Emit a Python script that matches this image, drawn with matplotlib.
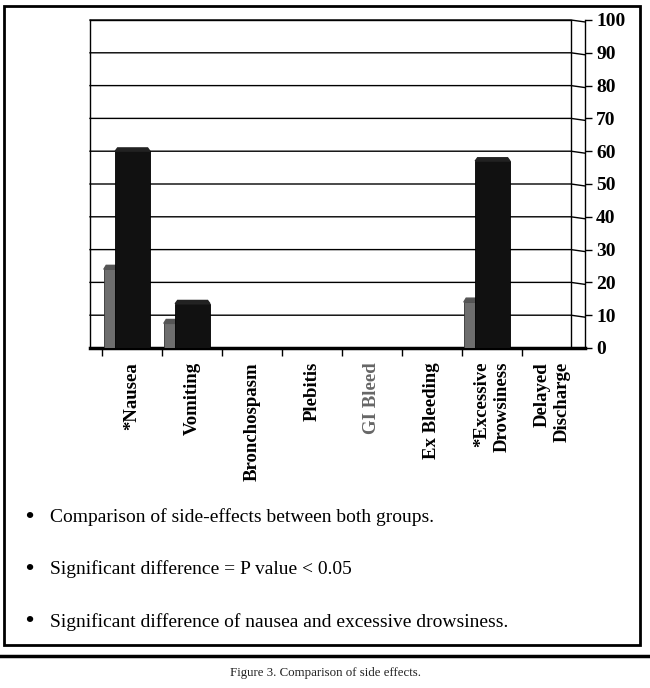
import matplotlib
matplotlib.use("Agg")
import matplotlib.pyplot as plt
from matplotlib.patches import Rectangle
from matplotlib.lines import Line2D
import numpy as np

# side effects (% of patients) for the two groups
categories = ["*Nausea", "Vomiting", "Bronchospasm", "Plebitis", "GI Bleed",
              "Ex Bleeding", "*Excessive\nDrowsiness", "Delayed\nDischarge"]
group_a = [24, 7.5, 0, 0, 0, 0, 14, 0]   # grey bars (back)
group_b = [60, 13.5, 0, 0, 0, 0, 57, 0]  # black bars (front)
y_ticks = list(range(0, 101, 10))

bullets = [
    "Comparison of side-effects between both groups.",
    "Significant difference = P value < 0.05",
    "Significant difference of nausea and excessive drowsiness.",
]
caption = "Figure 3. Comparison of side effects."

W, H = 650, 688
serif = ["Liberation Serif", "DejaVu Serif"]

fig = plt.figure(figsize=(W / 100, H / 100), dpi=100)
fig.patch.set_facecolor("white")

# axes placed in pixel terms
left, right, top, bottom = 90, 585, 20, 348
ax = fig.add_axes([left / W, (H - bottom) / H, (right - left) / W, (bottom - top) / H])

x = np.arange(len(categories))
ax.bar(x - 0.29, group_a, width=0.36, color="#6e6e6e", edgecolor="#333333", linewidth=0.6, zorder=3)
ax.bar(x + 0.01, group_b, width=0.58, color="#111111", edgecolor="#000000", linewidth=0.6, zorder=4)

# small slanted tops to suggest the 3D look
for xi, a, b in zip(x, group_a, group_b):
    if a > 0:
        ax.fill([xi - 0.47, xi - 0.43, xi - 0.11, xi - 0.11],
                [a, a + 1.2, a + 1.2, a], color="#555555", zorder=3)
    if b > 0:
        ax.fill([xi - 0.28, xi - 0.24, xi + 0.26, xi + 0.30],
                [b, b + 1.0, b + 1.0, b], color="#222222", zorder=4)

x0, x1 = -0.7, 7.55
wall = 7.317  # right edge of the back wall
ax.set_xlim(x0, x1)
ax.set_ylim(0, 100)

# gridlines on back wall, slanting down to the front axis
for v in y_ticks[1:]:
    ax.plot([x0, wall, x1], [v, v, v - 0.6], color="black", lw=1.0, zorder=1, clip_on=False)
ax.plot([wall, wall], [0, 100], color="black", lw=1.0, zorder=1)

ax.yaxis.tick_right()
ax.set_yticks(y_ticks)
ax.set_yticklabels([str(v) for v in y_ticks], fontsize=14, fontweight="bold", family=serif)
ax.tick_params(axis="y", direction="out", length=5, width=1, pad=3)

ax.set_xticks(x)
ax.set_xticks(x - 0.5, minor=True)
ax.tick_params(axis="x", which="major", length=0, pad=10)
ax.tick_params(axis="x", which="minor", direction="out", length=6, width=1)
labels = ax.set_xticklabels(categories, rotation=90, fontsize=13.5, fontweight="bold",
                            family=serif, va="top", ha="center", multialignment="right")
labels[4].set_color("#666666")

for s in ax.spines.values():
    s.set_linewidth(1.0)
ax.spines["top"].set_bounds(x0, wall)
ax.spines["bottom"].set_linewidth(2.5)

# text under the chart
for i, t in enumerate(bullets):
    yy = 1 - (517 + 52.5 * i) / H
    fig.text(25 / W, yy, "\u2022", fontsize=17, family=serif, va="center", fontweight="bold")
    fig.text(50 / W, yy, t, fontsize=14, family=serif, va="center")

fig.add_artist(Rectangle((4 / W, (H - 645) / H), 636 / W, 639 / H, transform=fig.transFigure,
                         fill=False, lw=2, edgecolor="black"))
fig.add_artist(Line2D([0, 1], [(H - 656) / H] * 2, transform=fig.transFigure, lw=2.5, color="black"))
fig.text(0.5, 1 - 673 / H, caption, fontsize=9.3, family=serif, ha="center", va="center", color="#222222")

fig.savefig("out.png", dpi=100)
